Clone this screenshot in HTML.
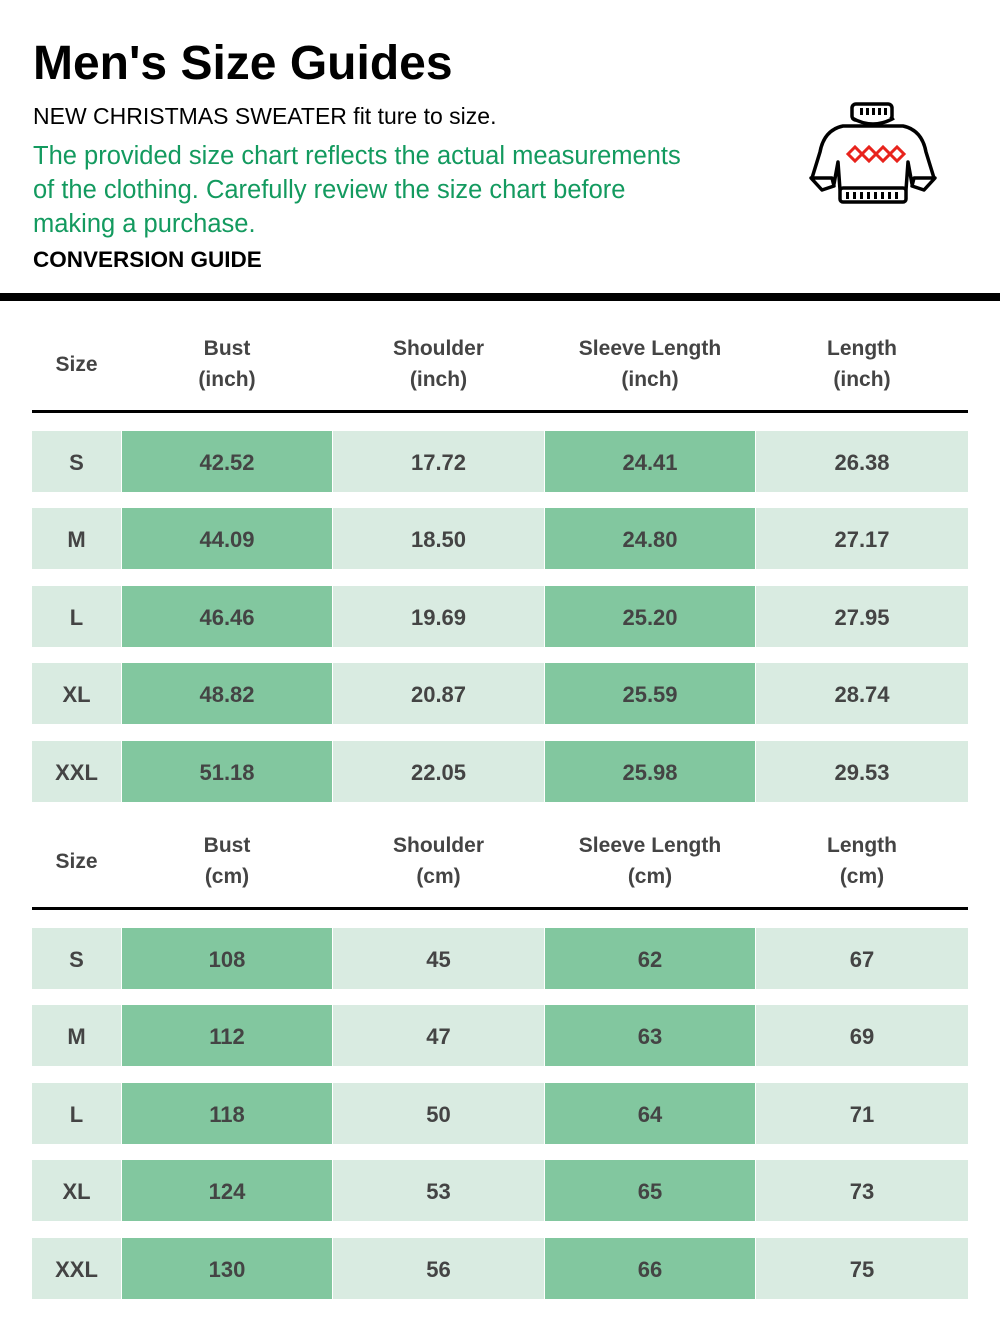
<!DOCTYPE html>
<html><head><meta charset="utf-8"><style>
*{margin:0;padding:0;box-sizing:border-box}
body{width:1000px;height:1331px;background:#fff;position:relative;font-family:"Liberation Sans",sans-serif;overflow:hidden}
.t{position:absolute;left:33px;white-space:nowrap}
.row{position:absolute;left:32px;width:936px;height:61px;display:flex;gap:1px}
.row div{height:61px;line-height:63px;text-align:center;font-weight:bold;font-size:22px;color:#444}
.c0{width:89px;background:#d9ebe1}.c1{width:210px;background:#82c79f}.c2{width:211px;background:#d9ebe1}.c3{width:210px;background:#82c79f}.c4{width:212px;background:#d9ebe1}
.hdr{position:absolute;left:32px;width:936px;display:flex;gap:1px}
.hdr div{text-align:center;font-weight:bold;font-size:21px;line-height:31px;color:#444;display:flex;align-items:center;justify-content:center;height:62px}
.w0{width:89px}.w1{width:210px}.w2{width:211px}.w3{width:210px}.w4{width:212px}
.line{position:absolute;left:32px;width:936px;height:3px;background:#000}
</style></head><body>
<div class="t" style="top:36px;font-size:48px;font-weight:bold;color:#000">Men's Size Guides</div>
<div class="t" style="top:103px;font-size:23px;color:#000">NEW CHRISTMAS SWEATER fit ture to size.</div>
<div class="t" style="top:139px;font-size:25.5px;line-height:34px;color:#139a5f">The provided size chart reflects the actual measurements<br>of the clothing. Carefully review the size chart before<br>making a purchase.</div>
<div class="t" style="top:247px;font-size:22.5px;font-weight:bold;color:#000">CONVERSION GUIDE</div>
<svg style="position:absolute;left:808px;top:100px" width="130" height="108" viewBox="0 0 130 108">
<g fill="#fff" stroke="#000" stroke-width="3.5" stroke-linejoin="round">
<path d="M35 26 Q16 30 12 52 L4 78 L14 88 L26 84 L30 62 L32 90 L98 90 L100 62 L104 84 L116 88 L126 78 L118 52 Q114 30 95 26 Z"/>
<rect x="44" y="4" width="40" height="16" rx="4"/>
<path d="M44 18 Q65 30 86 18"/>
<rect x="32" y="88" width="66" height="14" rx="3"/>
<path d="M3 78 L14 90 L26 86 L24 78 Z"/>
<path d="M127 78 L116 90 L104 86 L106 78 Z"/>
</g>
<g fill="#000"><rect x="52" y="8" width="3" height="7"/><rect x="58" y="8" width="3" height="7"/><rect x="64" y="8" width="3" height="7"/><rect x="70" y="8" width="3" height="7"/><rect x="76" y="8" width="3" height="7"/>
<rect x="38" y="92" width="3" height="7"/><rect x="45" y="92" width="3" height="7"/><rect x="52" y="92" width="3" height="7"/><rect x="59" y="92" width="3" height="7"/><rect x="66" y="92" width="3" height="7"/><rect x="73" y="92" width="3" height="7"/><rect x="80" y="92" width="3" height="7"/><rect x="87" y="92" width="3" height="7"/></g>
<g fill="none" stroke="#e8231c" stroke-width="3"><path d="M40 54 L47 47 L54 54 L47 61 Z"/><path d="M54 54 L61 47 L68 54 L61 61 Z"/><path d="M68 54 L75 47 L82 54 L75 61 Z"/><path d="M82 54 L89 47 L96 54 L89 61 Z"/></g>
</svg>
<div style="position:absolute;left:0;top:293px;width:1000px;height:8px;background:#000"></div>

<div class="hdr" style="top:333px"><div class="w0">Size</div><div class="w1">Bust<br>(inch)</div><div class="w2">Shoulder<br>(inch)</div><div class="w3">Sleeve Length<br>(inch)</div><div class="w4">Length<br>(inch)</div></div>
<div class="line" style="top:410px"></div>
<div class="row" style="top:431px"><div class="c0">S</div><div class="c1">42.52</div><div class="c2">17.72</div><div class="c3">24.41</div><div class="c4">26.38</div></div>
<div class="row" style="top:508px"><div class="c0">M</div><div class="c1">44.09</div><div class="c2">18.50</div><div class="c3">24.80</div><div class="c4">27.17</div></div>
<div class="row" style="top:586px"><div class="c0">L</div><div class="c1">46.46</div><div class="c2">19.69</div><div class="c3">25.20</div><div class="c4">27.95</div></div>
<div class="row" style="top:663px"><div class="c0">XL</div><div class="c1">48.82</div><div class="c2">20.87</div><div class="c3">25.59</div><div class="c4">28.74</div></div>
<div class="row" style="top:741px"><div class="c0">XXL</div><div class="c1">51.18</div><div class="c2">22.05</div><div class="c3">25.98</div><div class="c4">29.53</div></div>

<div class="hdr" style="top:830px"><div class="w0">Size</div><div class="w1">Bust<br>(cm)</div><div class="w2">Shoulder<br>(cm)</div><div class="w3">Sleeve Length<br>(cm)</div><div class="w4">Length<br>(cm)</div></div>
<div class="line" style="top:907px"></div>
<div class="row" style="top:928px"><div class="c0">S</div><div class="c1">108</div><div class="c2">45</div><div class="c3">62</div><div class="c4">67</div></div>
<div class="row" style="top:1005px"><div class="c0">M</div><div class="c1">112</div><div class="c2">47</div><div class="c3">63</div><div class="c4">69</div></div>
<div class="row" style="top:1083px"><div class="c0">L</div><div class="c1">118</div><div class="c2">50</div><div class="c3">64</div><div class="c4">71</div></div>
<div class="row" style="top:1160px"><div class="c0">XL</div><div class="c1">124</div><div class="c2">53</div><div class="c3">65</div><div class="c4">73</div></div>
<div class="row" style="top:1238px"><div class="c0">XXL</div><div class="c1">130</div><div class="c2">56</div><div class="c3">66</div><div class="c4">75</div></div>
</body></html>
